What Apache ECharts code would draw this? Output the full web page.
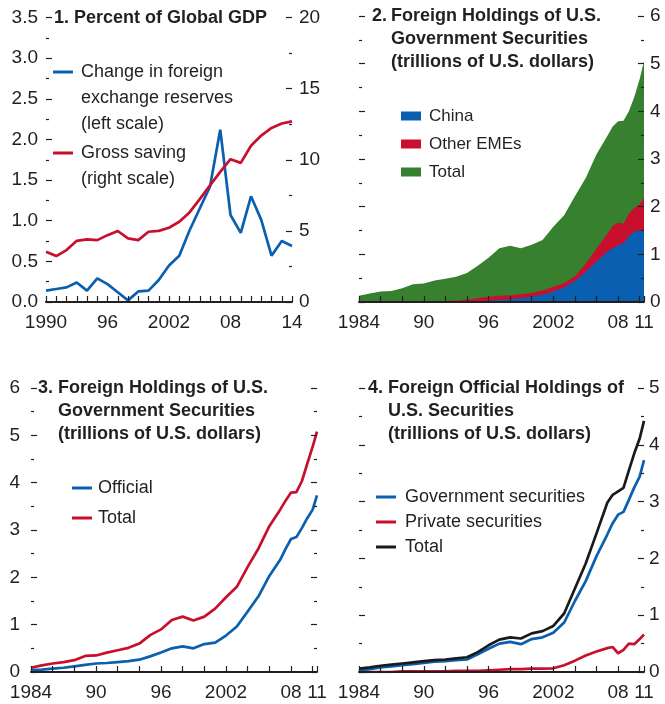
<!DOCTYPE html>
<html>
<head>
<meta charset="utf-8">
<script src="https://cdn.jsdelivr.net/npm/echarts@6/dist/echarts.min.js"></script>
<style>
  html, body { margin: 0; padding: 0; background: #fff; }
  #chart { width: 665px; height: 704px; }
</style>
</head>
<body>
<div id="chart"></div>
<script>
// ---- panel 1: percent of global GDP (annual) ----
const years1 = [1990, 1991, 1992, 1993, 1994, 1995, 1996, 1997, 1998, 1999, 2000, 2001, 2002,
  2003, 2004, 2005, 2006, 2007, 2008, 2009, 2010, 2011, 2012, 2013, 2014];
const fxReserves = [0.14, 0.16, 0.18, 0.24, 0.14, 0.29, 0.22, 0.12, 0.02, 0.13, 0.14, 0.27, 0.45,
  0.57, 0.88, 1.15, 1.42, 2.12, 1.07, 0.85, 1.30, 1.01, 0.57, 0.75, 0.69];
const grossSaving = [3.53, 3.23, 3.65, 4.3, 4.4, 4.35, 4.7, 4.99, 4.47, 4.35, 4.94, 5.0, 5.22,
  5.64, 6.3, 7.23, 8.2, 9.15, 10.04, 9.78, 10.98, 11.7, 12.24, 12.55, 12.7];
const xLabelYears1 = [1990, 1996, 2002, 2008, 2014];
const xLabels1 = ['1990', '96', '2002', '08', '14'];

// ---- panels 2-4: trillions of U.S. dollars ----
const years2 = [1984, 1985, 1986, 1987, 1988, 1989, 1990, 1991, 1992, 1993, 1994, 1995, 1996,
  1997, 1998, 1999, 2000, 2001, 2002, 2003, 2004, 2005, 2006, 2007, 2007.5, 2008, 2008.5,
  2009, 2009.5, 2010, 2010.4];
const xEnd2 = 2010.4;
const xLabelYears2 = [1984, 1990, 1996, 2002, 2008];
const xLabels2 = ['1984', '90', '96', '2002', '08'];
const xEndLabel2 = '11';

// panel 2
const china = [0, 0, 0, 0, 0, 0, 0, 0, 0, 0, 0, 0.01, 0.03, 0.04, 0.06, 0.08, 0.11, 0.15, 0.22,
  0.31, 0.44, 0.63, 0.85, 1.06, 1.13, 1.19, 1.23, 1.38, 1.48, 1.50, 1.51];
const otherEmes = [0, 0, 0, 0, 0, 0, 0.01, 0.01, 0.02, 0.03, 0.05, 0.07, 0.08, 0.09, 0.08, 0.08,
  0.08, 0.09, 0.10, 0.09, 0.10, 0.17, 0.27, 0.37, 0.47, 0.48, 0.41, 0.47, 0.49, 0.55, 0.69];
const total2 = [0.13, 0.18, 0.22, 0.23, 0.29, 0.37, 0.39, 0.45, 0.49, 0.53, 0.61, 0.76, 0.93,
  1.13, 1.18, 1.13, 1.2, 1.3, 1.58, 1.82, 2.22, 2.6, 3.1, 3.48, 3.68, 3.79, 3.8, 4.0, 4.3, 4.68, 5.05];

// panel 3
const official3 = [0.04, 0.05, 0.07, 0.09, 0.12, 0.15, 0.18, 0.19, 0.21, 0.23, 0.26, 0.33, 0.41,
  0.50, 0.54, 0.50, 0.59, 0.62, 0.77, 0.96, 1.28, 1.6, 2.03, 2.37, 2.6, 2.81, 2.85, 3.04, 3.25, 3.43, 3.73];
const total3 = [0.09, 0.14, 0.18, 0.21, 0.25, 0.34, 0.35, 0.41, 0.46, 0.51, 0.6, 0.78, 0.9,
  1.1, 1.17, 1.09, 1.17, 1.34, 1.58, 1.8, 2.22, 2.61, 3.08, 3.43, 3.62, 3.79, 3.8, 4.03, 4.4, 4.76, 5.08];

// panel 4
const govSec4 = [0.03, 0.05, 0.08, 0.1, 0.12, 0.14, 0.16, 0.18, 0.19, 0.21, 0.22, 0.31, 0.41,
  0.50, 0.53, 0.49, 0.58, 0.61, 0.69, 0.87, 1.25, 1.6, 2.04, 2.42, 2.62, 2.77, 2.82, 3.03, 3.25, 3.44, 3.73];
const privSec4 = [0, 0, 0, 0, 0.01, 0.01, 0.01, 0.01, 0.01, 0.02, 0.02, 0.02, 0.03, 0.04, 0.05,
  0.05, 0.06, 0.06, 0.065, 0.12, 0.2, 0.29, 0.36, 0.42, 0.44, 0.33, 0.39, 0.50, 0.49, 0.58, 0.66];
const total4 = [0.06, 0.08, 0.11, 0.13, 0.15, 0.17, 0.19, 0.21, 0.22, 0.24, 0.26, 0.35, 0.47,
  0.57, 0.61, 0.59, 0.68, 0.72, 0.81, 1.03, 1.47, 1.91, 2.44, 2.98, 3.12, 3.18, 3.24, 3.55, 3.85, 4.11, 4.42];

const INK = '#231f20';
const BLUE = '#0a5fb0';
const RED = '#c8102e';
const GREEN = '#378030';
const BLACK = '#1a1a1a';
const FONT = "'Liberation Sans', Arial, sans-serif";

const pairs = (xs, ys) => xs.map((x, i) => [x, ys[i]]);

function xAxis(grid, min, max, interval, fmt) {
  return {
    type: 'value', gridIndex: grid, min: min, max: max, interval: interval, z: 5,
    axisLine: { show: true, onZero: false, lineStyle: { color: INK, width: 2 } },
    axisTick: { show: true, inside: true, length: 6, lineStyle: { color: INK, width: 1.2 } },
    splitLine: { show: false },
    axisLabel: { margin: 11, color: INK, fontSize: 19, fontFamily: FONT, formatter: fmt }
  };
}

function yAxis(grid, max, interval, side, labels, margin, fmt) {
  return {
    type: 'value', gridIndex: grid, position: side, min: 0, max: max, interval: interval, z: 5,
    axisLine: { show: false },
    splitLine: { show: false },
    axisTick: { show: true, inside: true, length: 6, lineStyle: { color: INK, width: 1.2 } },
    minorTick: { show: true, splitNumber: 2, length: 3, lineStyle: { color: INK, width: 1.2 } },
    axisLabel: { show: labels, margin: margin, color: INK, fontSize: 19, fontFamily: FONT, formatter: fmt }
  };
}

const fmt1 = v => { const i = xLabelYears1.indexOf(v); return i >= 0 ? xLabels1[i] : ''; };
const fmt2 = v => {
  if (v >= xEnd2) return xEndLabel2;
  const i = xLabelYears2.indexOf(v);
  return i >= 0 ? xLabels2[i] : '';
};

function lineSeries(name, x, y, xs, ys, color) {
  return {
    name: name, type: 'line', xAxisIndex: x, yAxisIndex: y, data: pairs(xs, ys),
    showSymbol: false, color: color, lineStyle: { color: color, width: 2.7 }
  };
}

// panel 2 areas are drawn overlapping from the baseline, largest first
function areaSeries(name, ys, color) {
  return {
    name: name, type: 'line', xAxisIndex: 1, yAxisIndex: 2,
    data: pairs(years2, ys), showSymbol: false, color: color,
    lineStyle: { width: 0 }, areaStyle: { color: color, opacity: 1 }
  };
}

const chinaPlusOther = china.map((c, i) => +(c + otherEmes[i]).toFixed(3));

// legend text: blank lines in front so the first line sits on the legend key
const keyFirstLine = name => '\n'.repeat(name.split('\n').length - 1) + name;

const titleText = { fontFamily: FONT, fontWeight: 'bold', fontSize: 18, lineHeight: 23, color: INK };
const legendBase = {
  orient: 'vertical', padding: 0, selectedMode: false, icon: 'rect', itemWidth: 20, itemHeight: 3
};

const chart = echarts.init(document.getElementById('chart'));
chart.setOption({
  animation: false,
  backgroundColor: '#fff',
  textStyle: { fontFamily: FONT },
  title: [
    { text: '1. Percent of Global GDP', left: 54, top: 6.5, padding: 0, textStyle: titleText },
    { text: '2.', left: 372, top: 4.5, padding: 0, textStyle: titleText },
    { text: 'Foreign Holdings of U.S.\nGovernment Securities\n(trillions of U.S. dollars)', left: 391, top: 4.5, padding: 0, textStyle: titleText },
    { text: '3.', left: 38, top: 377, padding: 0, textStyle: titleText },
    { text: 'Foreign Holdings of U.S.\nGovernment Securities\n(trillions of U.S. dollars)', left: 58, top: 377, padding: 0, textStyle: titleText },
    { text: '4.', left: 368, top: 377, padding: 0, textStyle: titleText },
    { text: 'Foreign Official Holdings of\nU.S. Securities\n(trillions of U.S. dollars)', left: 388, top: 377, padding: 0, textStyle: titleText }
  ],
  legend: [
    Object.assign({}, legendBase, {
      data: ['Change in foreign\nexchange reserves\n(left scale)'], left: 53, top: 7,
      formatter: keyFirstLine,
      textStyle: { color: INK, fontSize: 18, lineHeight: 26, padding: [0, 0, 0, 3] }
    }),
    Object.assign({}, legendBase, {
      data: ['Gross saving\n(right scale)'], left: 53, top: 114,
      formatter: keyFirstLine,
      textStyle: { color: INK, fontSize: 18, lineHeight: 26, padding: [0, 0, 0, 3] }
    }),
    Object.assign({}, legendBase, {
      data: ['China', 'Other EMEs', 'Total'], left: 401, top: 106, itemHeight: 9, itemGap: 8,
      textStyle: { color: INK, fontSize: 17, lineHeight: 20, padding: [0, 0, 0, 3] }
    }),
    Object.assign({}, legendBase, {
      data: ['Official', 'Total '], left: 72, top: 478, itemGap: 10,
      textStyle: { color: INK, fontSize: 18, lineHeight: 20, padding: [0, 0, 0, 1] }
    }),
    Object.assign({}, legendBase, {
      data: ['Government securities', 'Private securities', 'Total  '], left: 376, top: 487, itemGap: 5,
      textStyle: { color: INK, fontSize: 18, lineHeight: 20, padding: [0, 0, 0, 4] }
    })
  ],
  grid: [
    { left: 46, top: 17.5, width: 246, height: 284.5 },
    { left: 359, top: 16, width: 285, height: 286 },
    { left: 31, top: 388, width: 286, height: 284 },
    { left: 359, top: 388, width: 285, height: 284 }
  ],
  xAxis: [
    xAxis(0, 1990, 2014, 1, fmt1),
    xAxis(1, 1984, xEnd2, 2, fmt2),
    xAxis(2, 1984, xEnd2, 2, fmt2),
    xAxis(3, 1984, xEnd2, 2, fmt2)
  ],
  yAxis: [
    yAxis(0, 3.5, 0.5, 'left', true, 8, v => v.toFixed(1)),
    yAxis(0, 20, 5, 'right', true, 7),
    yAxis(1, 6, 1, 'right', true, 6),
    yAxis(1, 6, 1, 'left', false, 8),
    yAxis(2, 6, 1, 'left', true, 11),
    yAxis(2, 6, 1, 'right', false, 8),
    yAxis(3, 5, 1, 'right', true, 5),
    yAxis(3, 5, 1, 'left', false, 8)
  ],
  series: [
    lineSeries('Change in foreign\nexchange reserves\n(left scale)', 0, 0, years1, fxReserves, BLUE),
    lineSeries('Gross saving\n(right scale)', 0, 1, years1, grossSaving, RED),
    areaSeries('Total', total2, GREEN),
    areaSeries('Other EMEs', chinaPlusOther, RED),
    areaSeries('China', china, BLUE),
    lineSeries('Official', 2, 4, years2, official3, BLUE),
    lineSeries('Total ', 2, 4, years2, total3, RED),
    lineSeries('Private securities', 3, 6, years2, privSec4, RED),
    lineSeries('Government securities', 3, 6, years2, govSec4, BLUE),
    lineSeries('Total  ', 3, 6, years2, total4, BLACK)
  ]
});
</script>
</body>
</html>
